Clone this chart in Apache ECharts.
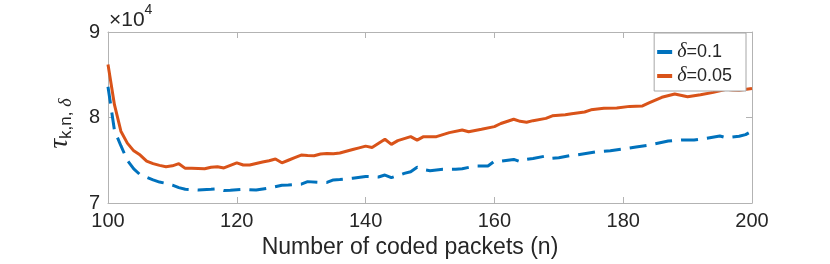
<!DOCTYPE html>
<html>
<head>
<meta charset="utf-8">
<script src="https://cdn.jsdelivr.net/npm/echarts@6/dist/echarts.min.js"></script>
<style>html,body{margin:0;padding:0;background:#fff;}#c{width:830px;height:264px;}</style>
</head>
<body>
<div id="c"></div>
<script>
// Series delta = 0.1 (blue, dashed)
var nBlue = [100,101,102,103,104,105,106,107,108,109,110,111,112,114,116,117,118,119,121,123,125,127,128,130,131,133,134,135,136,138,140,142,143,144,145,146,147,148,149,150,152,154,155,157,159,160,161,163,164,165,166,168,169,170,172,173,176,178,180,182,184,187,189,191,193,195,196,198,199,200];
var tauBlue = [83600,78500,76700,75000,74000,73300,73000,72700,72450,72300,72100,71800,71600,71520,71600,71650,71460,71500,71600,71520,71750,72070,72100,72200,72500,72400,72400,72700,72750,72900,73100,73040,73270,72960,73200,73470,73660,74180,73900,73780,73940,73940,74000,74330,74330,74880,74880,75100,74830,75100,75200,75500,75230,75300,75580,75650,76000,76120,76320,76550,76780,77250,77370,77370,77570,77840,77640,77800,78000,78420];
// Series delta = 0.05 (orange, solid)
var nOrange = [100,101,102,103,104,105,106,107,108,109,110,111,112,113,115,116,117,118,120,121,122,124,125,126,127,128,129,130,131,132,133,134,135,136,137,138,139,140,141,143,144,145,147,148,149,151,153,155,156,158,160,161,163,164,165,166,168,169,171,172,174,175,177,179,181,183,184,186,188,190,192,194,196,197,198,200];
var tauOrange = [86200,81500,78400,77000,76100,75600,74900,74600,74400,74250,74350,74600,74050,74050,74000,74180,74250,74100,74700,74440,74440,74800,74950,75150,74700,75000,75300,75600,75550,75530,75730,75800,75750,75850,76050,76250,76450,76650,76500,77450,76860,77300,77760,77350,77760,77760,78230,78540,78340,78620,78930,79300,79800,79550,79450,79630,79900,80200,80330,80450,80640,80900,81070,81110,81300,81350,81700,82360,82750,82430,82670,82940,83300,83220,83200,83400];

var seriesNames = ['δ=0.1', 'δ=0.05'];
var xTicks = [100, 120, 140, 160, 180, 200];
var yTicks = [70000, 80000, 90000];

function pairs(xs, ys) { return xs.map(function (x, i) { return [x, ys[i]]; }); }

var FONT = 'Liberation Sans';
var axisColor = '#b3b3b3';
var labelColor = '#262626';

var chart = echarts.init(document.getElementById('c'), null, {renderer: 'canvas'});
var xCommon = {
  type: 'value', min: xTicks[0], max: xTicks[xTicks.length - 1], interval: 20,
  axisLine: {show: true, lineStyle: {color: axisColor, width: 1}},
  axisTick: {show: true, inside: true, length: 6, lineStyle: {color: axisColor}},
  splitLine: {show: false}
};
var yCommon = {
  type: 'value', min: yTicks[0], max: yTicks[yTicks.length - 1], interval: 10000,
  axisLine: {show: true, lineStyle: {color: axisColor, width: 1}},
  axisTick: {show: true, inside: true, length: 6, lineStyle: {color: axisColor}},
  splitLine: {show: false}
};

chart.setOption({
  animation: false,
  backgroundColor: '#ffffff',
  grid: {left: 108, right: 78, top: 32, bottom: 61, containLabel: false},
  xAxis: [
    Object.assign({}, xCommon, {
      position: 'bottom',
      axisLabel: {show: true, color: labelColor, fontFamily: FONT, fontSize: 20, margin: 8},
      name: 'Number of coded packets (n)', nameLocation: 'middle', nameGap: 33,
      nameTextStyle: {color: labelColor, fontFamily: FONT, fontSize: 23, padding: [0, 40, 0, 0]}
    }),
    Object.assign({}, xCommon, {position: 'top', axisLabel: {show: false}})
  ],
  yAxis: [
    Object.assign({}, yCommon, {
      position: 'left',
      axisLabel: {show: true, color: labelColor, fontFamily: FONT, fontSize: 20, margin: 8,
        formatter: function (v) { return String(v / 10000); }},
      name: '{t|τ}{s|k,n, }{d|δ}', nameLocation: 'middle', nameGap: 33, nameRotate: 90,
      nameTextStyle: {
        color: labelColor,
        padding: [0, 12, 0, 0],
        rich: {
          t: {fontFamily: 'Liberation Serif', fontStyle: 'italic', fontSize: 27, lineHeight: 30, color: labelColor},
          s: {fontFamily: FONT, fontSize: 17, lineHeight: 12, verticalAlign: 'bottom', color: labelColor},
          d: {fontFamily: 'Liberation Serif', fontStyle: 'italic', fontSize: 18, lineHeight: 12, verticalAlign: 'bottom', color: labelColor}
        }
      }
    }),
    Object.assign({}, yCommon, {position: 'right', axisLabel: {show: false}})
  ],
  legend: {
    right: 84, top: 33,
    orient: 'vertical',
    backgroundColor: '#ffffff',
    borderColor: '#a6a6a6', borderWidth: 1,
    padding: [9, 14, 5, 3],
    itemGap: 4,
    itemWidth: 15, itemHeight: 4,
    icon: 'rect',
    data: seriesNames,
    formatter: function (name) { return '{d|δ}{n|' + name.slice(1) + '}'; },
    textStyle: {
      color: labelColor,
      rich: {
        d: {fontFamily: 'Liberation Serif', fontStyle: 'italic', fontSize: 20, lineHeight: 22, color: labelColor},
        n: {fontFamily: FONT, fontSize: 18, lineHeight: 22, color: labelColor}
      }
    }
  },
  graphic: [{
    type: 'text', left: 109, top: 3,
    style: {
      text: '{x|×10}{e|4}',
      rich: {
        x: {fontFamily: FONT, fontSize: 21, fill: labelColor, lineHeight: 28, verticalAlign: 'bottom'},
        e: {fontFamily: FONT, fontSize: 14, fill: labelColor, lineHeight: 28, verticalAlign: 'top'}
      }
    }
  }],
  series: [
    {
      name: seriesNames[0], type: 'line', data: pairs(nBlue, tauBlue),
      showSymbol: false, symbol: 'none',
      itemStyle: {color: '#0072BD'},
      lineStyle: {color: '#0072BD', width: 3, type: [17, 9]}
    },
    {
      name: seriesNames[1], type: 'line', data: pairs(nOrange, tauOrange),
      showSymbol: false, symbol: 'none',
      itemStyle: {color: '#D95319'},
      lineStyle: {color: '#D95319', width: 3}
    }
  ]
});
</script>
</body>
</html>
